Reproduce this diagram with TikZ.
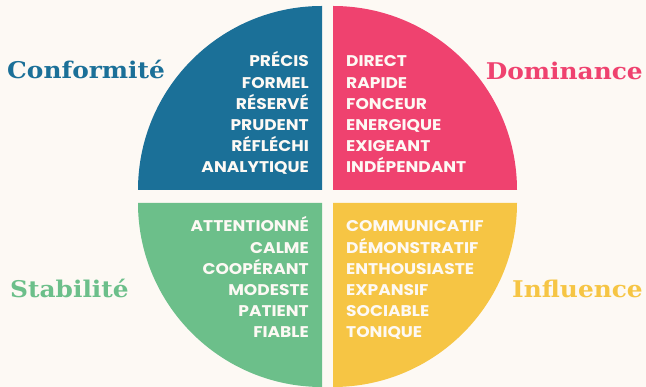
\documentclass[tikz,border=0pt]{standalone}
\usepackage{fontspec}
\setmainfont{Poppins}
\newfontfamily\wordfont[FakeStretch=1.1]{Poppins}
\newfontfamily\titlefont[FakeStretch=1.08]{DejaVu Serif}
\definecolor{bgc}{HTML}{FDF9F4}
\definecolor{cblue}{HTML}{1B7098}
\definecolor{cpink}{HTML}{EF426F}
\definecolor{cgreen}{HTML}{6CBF8A}
\definecolor{cyellow}{HTML}{F6C544}
\begin{document}
\begin{tikzpicture}[x=1pt,y=1pt,
  wordR/.style={anchor=base east,inner sep=0pt,text=bgc,font=\wordfont\fontsize{15.5}{17}\selectfont\bfseries},
  wordL/.style={anchor=base west,inner sep=0pt,text=bgc,font=\wordfont\fontsize{15.5}{17}\selectfont\bfseries},
  ttl/.style={inner sep=0pt,font=\titlefont\fontsize{23}{26}\selectfont\bfseries}]
\useasboundingbox[fill=bgc] (0,0) rectangle (646,387);
\fill[cblue]   (322,197) -- ++(-184,0) arc[start angle=180,end angle=90,radius=184] -- cycle;
\fill[cpink]   (333,197) -- ++(184,0) arc[start angle=0,end angle=90,radius=184] -- cycle;
\fill[cgreen]  (322,184) -- ++(-184,0) arc[start angle=180,end angle=270,radius=184] -- cycle;
\fill[cyellow] (333,184) -- ++(184,0) arc[start angle=0,end angle=-90,radius=184] -- cycle;
\foreach \w [count=\i] in {PRÉCIS,FORMEL,RÉSERVÉ,PRUDENT,RÉFLÉCHI,ANALYTIQUE}
  \node[wordR] (c\i) at (309,320-21.1*\i+21.1) {\w};
\foreach \w [count=\i] in {DIRECT,RAPIDE,FONCEUR,ENERGIQUE,EXIGEANT,INDÉPENDANT}
  \node[wordL] (d\i) at (346,320-21.1*\i+21.1) {\w};
\foreach \w [count=\i] in {ATTENTIONNÉ,CALME,COOPÉRANT,MODESTE,PATIENT,FIABLE}
  \node[wordR] (s\i) at (309,155-21.2*\i+21.2) {\w};
\foreach \w [count=\i] in {COMMUNICATIF,DÉMONSTRATIF,ENTHOUSIASTE,EXPANSIF,SOCIABLE,TONIQUE}
  \node[wordL] (f\i) at (346,155-21.2*\i+21.2) {\w};
\node[ttl,text=cblue,anchor=base west] (tc) at (7,308) {Conformité};
\node[ttl,text=cpink,anchor=base east] (td) at (643,307) {Dominance};
\node[ttl,text=cgreen,anchor=base west] (ts) at (10,89.5) {Stabilité};
\node[ttl,text=cyellow,anchor=base east] (ti) at (643,89) {Influence};
\end{tikzpicture}
\end{document}
